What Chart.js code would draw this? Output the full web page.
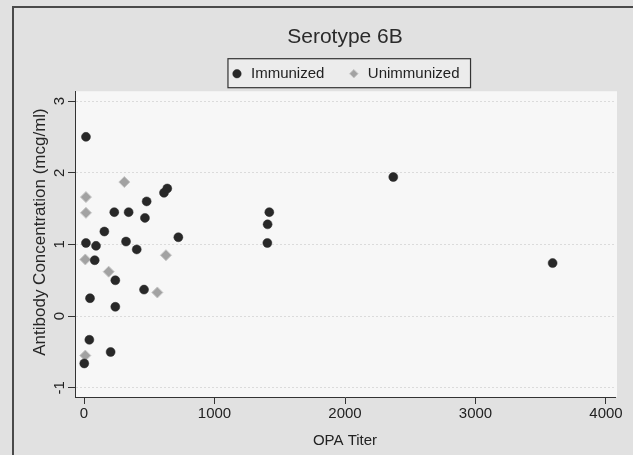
<!DOCTYPE html>
<html>
<head>
<meta charset="utf-8">
<script src="https://cdn.jsdelivr.net/npm/chart.js@4.4.0/dist/chart.umd.min.js"></script>
<style>
html,body{margin:0;padding:0;background:#e1e1e1;}
#wrap{width:633px;height:455px;position:relative;}
</style>
</head>
<body>
<div id="wrap"><canvas id="c" width="633" height="455"></canvas></div>
<script>
// ---- data ----
const chartTitle = 'Serotype 6B';
const xAxisTitle = 'OPA Titer';
const yAxisTitle = 'Antibody Concentration (mcg/ml)';
const seriesNames = ['Immunized', 'Unimmunized'];

const immunizedTiter = [15, 480, 613, 638, 232, 342, 467, 156, 15, 92, 322, 404, 723, 1420, 1407, 1405, 82, 240, 460, 46, 240, 41, 204, 2, 2370, 3591];
const immunizedConc  = [2.50, 1.60, 1.72, 1.78, 1.45, 1.45, 1.37, 1.18, 1.02, 0.98, 1.04, 0.93, 1.10, 1.45, 1.28, 1.02, 0.78, 0.50, 0.37, 0.25, 0.13, -0.33, -0.50, -0.66, 1.94, 0.74];

const unimmunizedTiter = [309, 15, 15, 10, 628, 189, 562, 10];
const unimmunizedConc  = [1.87, 1.66, 1.44, 0.79, 0.85, 0.62, 0.33, -0.55];

const xTickValues = [0, 1000, 2000, 3000, 4000];
const yTickValues = [-1, 0, 1, 2, 3];

const FONT = '"Liberation Sans", Arial, Helvetica, sans-serif';
Chart.defaults.font.family = FONT;

const toPoints = (xs, ys) => xs.map((x, i) => ({x: x, y: ys[i]}));

const paperPlugin = {
  id: 'paper',
  legendBox(chart) {
    const hb = chart.legend && chart.legend.legendHitBoxes;
    if (!hb || !hb.length) return null;
    const last = hb[hb.length - 1];
    const cy = hb[0].top + hb[0].height / 2;
    const left = hb[0].left + 6.5 - 9;
    const right = last.left + last.width + 11;
    return {left: left, right: right, top: cy - 15, bottom: cy + 14};
  },
  beforeDraw(chart) {
    const {ctx, chartArea: a, width, height} = chart;
    ctx.save();
    ctx.fillStyle = '#e1e1e1';
    ctx.fillRect(0, 0, width, height);
    ctx.fillStyle = '#f7f7f7';
    ctx.fillRect(a.left, a.top, a.right - a.left + 2, a.bottom - a.top);
    const b = this.legendBox(chart);
    if (b) {
      ctx.fillStyle = '#ececec';
      ctx.fillRect(b.left, b.top, b.right - b.left, b.bottom - b.top);
    }
    ctx.strokeStyle = '#4a4a4a';
    ctx.lineWidth = 2;
    ctx.beginPath();
    ctx.moveTo(13, height);
    ctx.lineTo(13, 7);
    ctx.lineTo(width, 7);
    ctx.stroke();
    ctx.restore();
  },
  afterDraw(chart) {
    const {ctx} = chart;
    const b = this.legendBox(chart);
    ctx.save();
    if (b) {
      ctx.strokeStyle = '#333';
      ctx.lineWidth = 1.2;
      ctx.strokeRect(b.left, b.top, b.right - b.left, b.bottom - b.top);
    }
    ctx.fillStyle = '#262626';
    ctx.font = '17px ' + FONT;
    ctx.textAlign = 'center';
    ctx.textBaseline = 'middle';
    ctx.translate(40, 232);
    ctx.rotate(-Math.PI / 2);
    ctx.fillText(yAxisTitle, 0, 0);
    ctx.restore();
  }
};

new Chart(document.getElementById('c'), {
  type: 'scatter',
  data: {
    datasets: [
      {
        label: seriesNames[0],
        data: toPoints(immunizedTiter, immunizedConc),
        pointStyle: 'circle',
        pointRadius: 4.5,
        backgroundColor: '#282828',
        borderColor: '#282828',
        borderWidth: 0.5
      },
      {
        label: seriesNames[1],
        data: toPoints(unimmunizedTiter, unimmunizedConc),
        pointStyle: 'rectRot',
        pointRadius: 5.5,
        backgroundColor: '#a2a2a2',
        borderColor: '#c6c6c6',
        borderWidth: 1
      }
    ]
  },
  options: {
    responsive: false,
    animation: false,
    events: [],
    devicePixelRatio: 1,
    layout: {padding: {top: 0, left: 0, right: 18, bottom: 0}},
    plugins: {
      title: {
        display: true,
        text: chartTitle,
        fullSize: false,
        color: '#2a2a2a',
        font: {size: 21, weight: 'normal'},
        padding: {top: 25, bottom: -7}
      },
      legend: {
        display: true,
        position: 'top',
        fullSize: false,
        align: 'center',
        labels: {
          usePointStyle: true,
          boxWidth: 13,
          boxHeight: 6,
          padding: 23,
          color: '#222',
          font: {size: 15}
        }
      },
      tooltip: {enabled: false}
    },
    scales: {
      x: {
        type: 'linear',
        position: 'bottom',
        min: -69,
        max: 4069,
        afterBuildTicks: s => { s.ticks = xTickValues.map(v => ({value: v})); },
        afterFit: s => { s.height = 58; },
        ticks: {
          color: '#222',
          font: {size: 15},
          padding: 1,
          maxRotation: 0,
          autoSkip: false,
          callback: v => String(v)
        },
        grid: {
          drawOnChartArea: false,
          drawTicks: true,
          tickLength: 7,
          tickColor: '#333',
          tickWidth: 1
        },
        border: {display: true, color: '#333', width: 1},
        title: {
          display: true,
          text: xAxisTitle,
          color: '#222',
          font: {size: 15},
          padding: {top: 0, bottom: 5}
        }
      },
      y: {
        type: 'linear',
        position: 'left',
        min: -1.128,
        max: 3.137,
        afterBuildTicks: s => { s.ticks = yTickValues.map(v => ({value: v})); },
        afterFit: s => { s.width = 75; },
        ticks: {
          color: '#222',
          font: {size: 15},
          padding: 1,
          minRotation: 90,
          maxRotation: 90,
          crossAlign: 'center',
          autoSkip: false,
          callback: v => String(v)
        },
        grid: {
          drawOnChartArea: true,
          color: 'rgba(0,0,0,0.11)',
          lineWidth: 1,
          drawTicks: true,
          tickLength: 7,
          tickColor: '#333',
          tickWidth: 1
        },
        border: {display: true, color: '#333', width: 1, dash: [2, 2]},
        title: {display: false}
      }
    }
  },
  plugins: [paperPlugin]
});
</script>
</body>
</html>
